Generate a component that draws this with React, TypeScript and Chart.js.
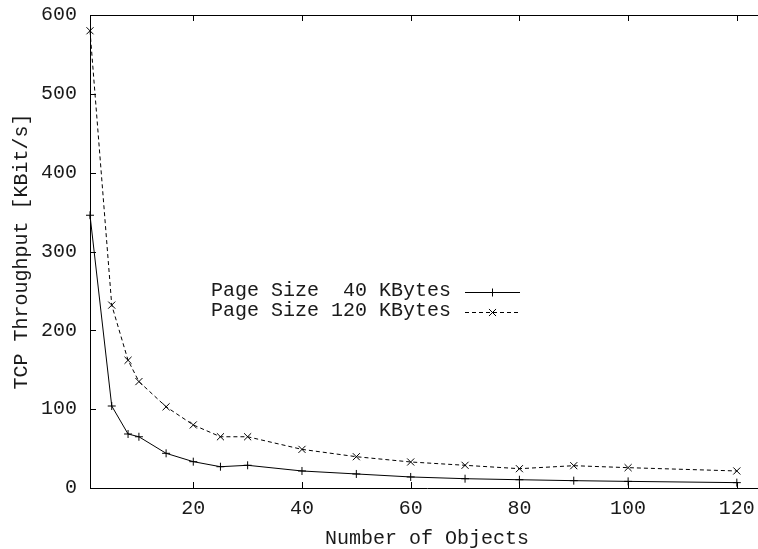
import React, { useEffect, useRef } from "react";
import { Chart, registerables } from "chart.js";

Chart.register(...registerables);

// ---- Data ----
const objectCounts = [1, 5, 8, 10, 15, 20, 25, 30, 40, 50, 60, 70, 80, 90, 100, 120];
const throughput40 = [346, 104, 68.5, 65, 44, 33.4, 27, 28.8, 21.6, 17.8, 14, 11.8, 10.5, 9.3, 8.4, 6.8];
const throughput120 = [580, 232, 162, 135, 103, 80, 65, 65, 49, 39.7, 33, 28.8, 24.5, 28.3, 25.8, 21.6];
const xTickValues = [20, 40, 60, 80, 100, 120];
const yTickValues = [0, 100, 200, 300, 400, 500, 600];
const seriesLabels = ["Page Size  40 KBytes", "Page Size 120 KBytes"];
const xTitle = "Number of Objects";
const yTitle = "TCP Throughput [KBit/s]";

const FONT = "'Liberation Mono', 'DejaVu Sans Mono', monospace";
const TEXT_COLOR = "#1a1a1a";
const TICK_LEN = 6;

const framePlugin = {
  id: "gnuplotFrame",
  afterDatasetsDraw(chart: any) {
    const { ctx, chartArea, scales } = chart;
    const { left, right, top, bottom } = chartArea;
    ctx.save();
    ctx.strokeStyle = "#000";
    ctx.lineWidth = 1;
    // top and right border
    ctx.beginPath();
    ctx.moveTo(left, Math.round(top) + 0.5);
    ctx.lineTo(right, Math.round(top) + 0.5);
    ctx.moveTo(Math.round(right) - 0.5, top);
    ctx.lineTo(Math.round(right) - 0.5, bottom);
    ctx.stroke();
    // inward ticks
    ctx.beginPath();
    for (const v of xTickValues) {
      const px = Math.round(scales.x.getPixelForValue(v)) + 0.5;
      ctx.moveTo(px, bottom);
      ctx.lineTo(px, bottom - TICK_LEN);
      ctx.moveTo(px, top);
      ctx.lineTo(px, top + TICK_LEN);
    }
    for (const v of yTickValues) {
      const py = Math.round(scales.y.getPixelForValue(v)) + 0.5;
      ctx.moveTo(left, py);
      ctx.lineTo(left + TICK_LEN, py);
      ctx.moveTo(right, py);
      ctx.lineTo(right - TICK_LEN, py);
    }
    ctx.stroke();
    ctx.restore();
  },
  afterDraw(chart: any) {
    const { ctx } = chart;
    const textRight = 451;
    const lineX0 = 465;
    const lineX1 = 520;
    const rows = [292, 312];
    ctx.save();
    ctx.font = `20px ${FONT}`;
    ctx.fillStyle = TEXT_COLOR;
    ctx.textAlign = "right";
    ctx.textBaseline = "alphabetic";
    chart.data.datasets.forEach((ds: any, i: number) => {
      const y = rows[i];
      ctx.fillText(ds.label, textRight, y + 3.5);
      ctx.strokeStyle = "#000";
      ctx.lineWidth = 1;
      ctx.setLineDash(ds.borderDash || []);
      ctx.beginPath();
      ctx.moveTo(lineX0, y + 0.5);
      ctx.lineTo(lineX1, y + 0.5);
      ctx.stroke();
      ctx.setLineDash([]);
      const cx = (lineX0 + lineX1) / 2;
      const cy = y + 0.5;
      ctx.beginPath();
      if (ds.pointStyle === "cross") {
        const r = ds.pointRadius;
        ctx.moveTo(cx - r, cy);
        ctx.lineTo(cx + r, cy);
        ctx.moveTo(cx, cy - r);
        ctx.lineTo(cx, cy + r);
      } else {
        const r = ds.pointRadius * Math.SQRT1_2;
        ctx.moveTo(cx - r, cy - r);
        ctx.lineTo(cx + r, cy + r);
        ctx.moveTo(cx - r, cy + r);
        ctx.lineTo(cx + r, cy - r);
      }
      ctx.stroke();
    });
    ctx.restore();
  },
};

export default function App() {
  const canvasRef = useRef<HTMLCanvasElement>(null);

  useEffect(() => {
    const canvas = canvasRef.current;
    if (!canvas) return;
    const chart = new Chart(canvas, {
      type: "line",
      data: {
        datasets: [
          {
            label: seriesLabels[0],
            data: objectCounts.map((x, i) => ({ x, y: throughput40[i] })),
            borderColor: "#000",
            borderWidth: 1,
            pointStyle: "cross",
            pointRadius: 4,
            pointBorderWidth: 1,
            pointBorderColor: "#000",
            pointBackgroundColor: "transparent",
            fill: false,
            tension: 0,
            clip: false,
          } as any,
          {
            label: seriesLabels[1],
            data: objectCounts.map((x, i) => ({ x, y: throughput120[i] })),
            borderColor: "#000",
            borderWidth: 1,
            borderDash: [4, 3],
            pointStyle: "crossRot",
            pointRadius: 5,
            pointBorderWidth: 1,
            pointBorderColor: "#000",
            pointBackgroundColor: "transparent",
            fill: false,
            tension: 0,
            clip: false,
          } as any,
        ],
      },
      options: {
        animation: false,
        responsive: false,
        devicePixelRatio: 1,
        events: [],
        layout: { padding: { left: 0, top: 15, right: 6, bottom: 0 } },
        plugins: {
          legend: { display: false },
          tooltip: { enabled: false },
          title: { display: false },
        },
        scales: {
          x: {
            type: "linear",
            min: 1,
            max: 125,
            grid: { display: false, drawTicks: false },
            border: { display: true, color: "#000", width: 1 },
            afterBuildTicks: (scale: any) => {
              scale.ticks = xTickValues.map((v) => ({ value: v }));
            },
            afterFit: (scale: any) => {
              scale.height = 61;
              scale.paddingLeft = 0;
              scale.paddingRight = 0;
            },
            ticks: {
              autoSkip: false,
              maxRotation: 0,
              padding: 9,
              color: TEXT_COLOR,
              font: { family: FONT, size: 20, lineHeight: 1.2 },
              callback: (v: any) => String(v),
            },
            title: {
              display: true,
              text: xTitle,
              color: TEXT_COLOR,
              font: { family: FONT, size: 20, lineHeight: 1 },
              padding: { top: 0, bottom: 0 },
            },
          },
          y: {
            type: "linear",
            min: 0,
            max: 600,
            grid: { display: false, drawTicks: false },
            border: { display: true, color: "#000", width: 1 },
            afterBuildTicks: (scale: any) => {
              scale.ticks = yTickValues.map((v) => ({ value: v }));
            },
            afterFit: (scale: any) => {
              scale.width = 90;
              scale.paddingTop = 0;
              scale.paddingBottom = 0;
            },
            ticks: {
              autoSkip: false,
              padding: 13,
              color: TEXT_COLOR,
              font: { family: FONT, size: 20, lineHeight: 1.2 },
              callback: (v: any) => String(v),
            },
            title: {
              display: true,
              text: yTitle,
              color: TEXT_COLOR,
              font: { family: FONT, size: 20, lineHeight: 1 },
              padding: { top: 11.5, bottom: 0 },
            },
          },
        },
      },
      plugins: [framePlugin],
    });
    return () => chart.destroy();
  }, []);

  return (
    <div
      style={{
        position: "absolute",
        left: 0,
        top: 0,
        width: 758,
        height: 549,
        overflow: "hidden",
        background: "#fff",
      }}
    >
      <canvas
        ref={canvasRef}
        width={770}
        height={549}
        style={{ display: "block", width: 770, height: 549 }}
      />
    </div>
  );
}
